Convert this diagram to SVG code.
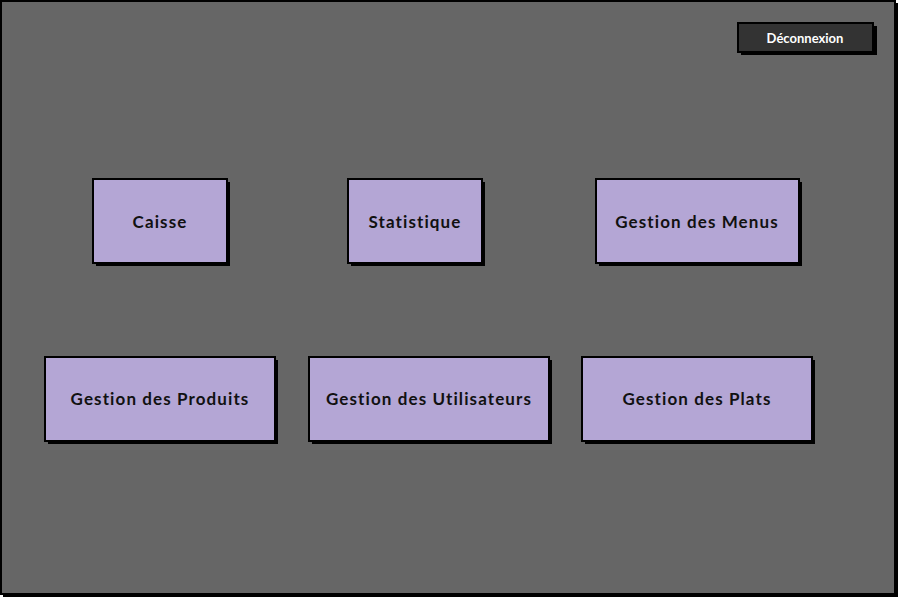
<svg xmlns="http://www.w3.org/2000/svg" width="899" height="598" viewBox="0 0 899 598">
<style>
.shadow{fill:#000}
.box{fill:#b4a6d5;stroke:#000;stroke-width:2}
.lbl{font-family:"Lato","Liberation Sans",sans-serif;font-weight:bold;font-size:17px;fill:#111;text-anchor:middle;dominant-baseline:central;letter-spacing:1.1px}
.btn{fill:#333333;stroke:#000;stroke-width:2}
.btnlbl{font-family:"Lato","Liberation Sans",sans-serif;font-weight:bold;font-size:13px;fill:#fff;text-anchor:middle;dominant-baseline:central}
</style>
<g id="frame">
<rect x="3" y="3" width="895" height="594" fill="#000"/>
<rect x="1" y="1" width="894" height="593" fill="#666666" stroke="#000" stroke-width="2"/>
</g>
<g id="deconnexion">
<rect class="shadow" x="741" y="26" width="136" height="29"/>
<rect class="btn" x="738" y="23" width="135" height="29"/>
<text class="btnlbl" x="805" y="38">Déconnexion</text>
</g>
<g id="caisse">
<rect class="shadow" x="96" y="182" width="134" height="84"/>
<rect class="box" x="93" y="179" width="134" height="84"/>
<text class="lbl" x="160" y="221">Caisse</text>
</g>
<g id="statistique">
<rect class="shadow" x="351" y="182" width="134" height="84"/>
<rect class="box" x="348" y="179" width="134" height="84"/>
<text class="lbl" x="415" y="221">Statistique</text>
</g>
<g id="menus">
<rect class="shadow" x="599" y="182" width="203" height="84"/>
<rect class="box" x="596" y="179" width="203" height="84"/>
<text class="lbl" x="697" y="221">Gestion des Menus</text>
</g>
<g id="produits">
<rect class="shadow" x="48" y="360" width="230" height="84"/>
<rect class="box" x="45" y="357" width="230" height="84"/>
<text class="lbl" x="160" y="398">Gestion des Produits</text>
</g>
<g id="utilisateurs">
<rect class="shadow" x="312" y="360" width="240" height="84"/>
<rect class="box" x="309" y="357" width="240" height="84"/>
<text class="lbl" x="429" y="398">Gestion des Utilisateurs</text>
</g>
<g id="plats">
<rect class="shadow" x="585" y="360" width="230" height="84"/>
<rect class="box" x="582" y="357" width="230" height="84"/>
<text class="lbl" x="697" y="398">Gestion des Plats</text>
</g>
<g id="connectors"></g>
</svg>
